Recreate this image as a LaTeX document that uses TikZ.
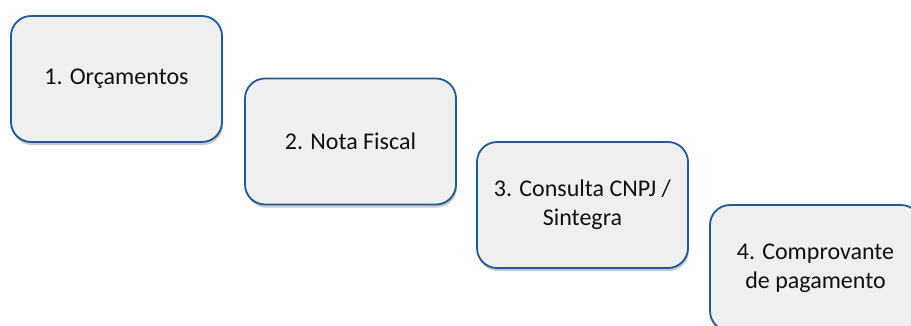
\documentclass[tikz,border=0pt]{standalone}
\usepackage{fontspec}
\setmainfont{Carlito}
\usetikzlibrary{shadows}
\definecolor{boxfill}{HTML}{EFEFEF}
\definecolor{boxline}{HTML}{1F5A96}
\definecolor{txt}{HTML}{111111}
\begin{document}
\begin{tikzpicture}[x=1pt,y=-1pt,
  stepbox/.style={draw=boxline, line width=1.8pt, fill=boxfill, rounded corners=20pt,
    minimum width=211pt, minimum height=126pt, inner sep=0pt, align=center,
    text=txt, font=\fontsize{24}{29}\selectfont,
    drop shadow={opacity=0.35, fill=black!60, shadow xshift=1pt, shadow yshift=-3pt}}]
\useasboundingbox (0,0) rectangle (911,325);
\clip (0,0) rectangle (911,325);
\node[stepbox] (b1) at (116.5,79) {1. Orçamentos};
\node[stepbox] (b2) at (350.5,141.5) {2. Nota Fiscal};
\node[stepbox] (b3) at (582.5,205) {3. Consulta CNPJ /\\Sintegra};
\node[stepbox] (b4) at (815.5,268) {4. Comprovante\\de pagamento};
\end{tikzpicture}
\end{document}
